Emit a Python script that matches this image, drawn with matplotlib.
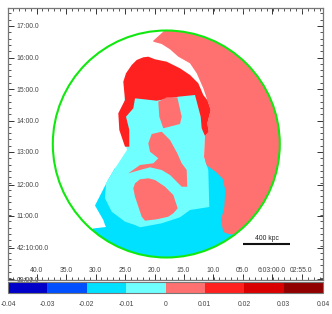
import matplotlib
matplotlib.use("Agg")
import matplotlib.pyplot as plt
import numpy as np
from matplotlib.colors import BoundaryNorm, ListedColormap
from matplotlib.patches import Circle

plt.rcParams["font.family"] = ["Liberation Sans", "DejaVu Sans"]

W, H = 332, 314
TEXT = "#444444"

# colour scale
levels = [-0.04, -0.03, -0.02, -0.01, 0, 0.01, 0.02, 0.03, 0.04]
level_labels = ["-0.04", "-0.03", "-0.02", "-0.01", "0", "0.01", "0.02", "0.03", "0.04"]
level_colors = ["#0000c8", "#0050ff", "#00e0ff", "#70ffff", "#ff7070", "#ff2020", "#d80000", "#900000"]

# sky axes, positions
ra_ticks = [36.5, 66, 95.5, 125, 154.5, 183.5, 213, 242.5, 272, 301.5]
ra_labels = ["40.0", "35.0", "30.0", "25.0", "20.0", "15.0", "10.0", "05.0", "6:03:00.0", "02:55.0"]
dec_ticks = [26, 57.5, 89, 120.5, 152, 184.5, 216, 247.5, 279]
dec_labels = ["17:00.0", "16:00.0", "15:00.0", "14:00.0", "13:00.0", "12:00.0", "11:00.0", "42:10:00.0", "09:00.0"]

# contour outlines, each with the value of its band
cyan_value = -0.015
cyan_outline = [(108, 180), (95, 205.5), (103.3, 220), (105, 225), (106, 227), (93, 228.5), (80, 270),
                (260, 270), (235, 240), (235, 190), (208, 160), (115, 168)]

light_value = -0.005
light_outline = [(125, 95), (200, 95), (205, 136), (204, 157), (206.7, 165), (208.3, 170), (209.3, 207),
                 (190, 210), (180, 217.3), (161.7, 223.3), (140, 227.3), (135, 225), (125, 221.7),
                 (111.7, 211.7), (105, 198.3), (106, 183.3), (115, 168.3), (127, 150), (122, 130)]

pink_value = 0.005
pink_outline = [(164, 20), (164, 31), (153.3, 40.7), (153.3, 41.7), (161.7, 44), (170, 49.3), (178.3, 56.7),
                (190, 63.3), (196.7, 73.3), (203.3, 88.3), (207.3, 100), (210.7, 110), (207.3, 123.3),
                (208.7, 131.7), (205, 136), (204, 157), (206.7, 165.3), (216, 172), (222.7, 178.7),
                (225.3, 190.3), (224.3, 207), (221, 220.3), (223.3, 232), (229.3, 234.3), (232.7, 234.3),
                (260, 250), (300, 250), (300, 20)]

red_value = 0.015
red_outline = [(136.7, 60), (143.3, 57.3), (148.3, 56.7), (155, 59.3), (166.7, 61.7), (180, 68.3), (190, 75),
               (198.3, 83.3), (203.3, 95), (207.3, 100), (210.7, 110), (207.3, 123.3), (208.7, 131.7),
               (205, 136), (201.7, 128.3), (200.7, 116.7), (195, 95), (178.3, 96.7), (156.7, 100.7),
               (135, 98.3), (133.3, 108.3), (126, 116.7), (129.3, 130), (129.3, 146.7), (125, 146.7),
               (119.3, 130), (118.3, 113.3), (125, 100), (123.3, 81.7), (126, 73.3), (131.7, 65)]

island_value = 0.005
island_top = [(158.3, 101.7), (166.7, 97.3), (177.3, 97.3), (181.7, 116.7), (180, 124), (163.3, 128.3),
              (159.3, 116.7)]
island_middle = [(148.3, 143.3), (151.7, 134), (161.7, 131.7), (170, 140), (177.3, 153.3), (181.7, 163.3),
                 (186.7, 170), (187.3, 186.7), (181.7, 186.7), (170, 175), (161.7, 170), (150, 167.3),
                 (140, 170), (128.3, 173.3), (140, 165), (153.3, 163.3), (158.3, 158.3), (150, 151.7)]
island_bottom = [(133.3, 188.3), (135, 183.3), (140, 179.3), (148.3, 178.3), (155, 180), (165, 186.7),
                 (173.3, 195), (177.7, 208.3), (173.3, 213.3), (168.3, 216.7), (156.7, 219.3), (145, 220.7),
                 (141.7, 216.7), (140, 211.7), (136.7, 201.7), (135, 196.7)]

# r500 circle and scale bar
circle_center = (166.3, 144)
circle_radius = 113.5
bar_x = [243.3, 290.3]
bar_y = [244.3, 244.3]
bar_label = "400 kpc"


def main():
    fig = plt.figure(figsize=(W / 100, H / 100), dpi=100)
    ax = fig.add_axes([8 / W, 1 - 280 / H, 315 / W, 272 / H])
    ax.set_xlim(8, 323)
    ax.set_ylim(280, 8)

    cmap = ListedColormap(level_colors)
    norm = BoundaryNorm(levels, cmap.N)

    clip = Circle(circle_center, circle_radius, transform=ax.transData)
    bands = [(cyan_outline, cyan_value), (light_outline, light_value), (pink_outline, pink_value),
             (red_outline, red_value), (island_top, island_value), (island_middle, island_value),
             (island_bottom, island_value)]
    for outline, value in bands:
        xs, ys = zip(*outline)
        poly = ax.fill(xs, ys, color=cmap(norm(value)), lw=0)[0]
        poly.set_clip_path(clip)

    ax.add_patch(Circle(circle_center, circle_radius, fill=False, ec="#10e810", lw=1.5))

    ax.plot(bar_x, bar_y, color="#111111", lw=1.5, solid_capstyle="butt")
    ax.text(np.mean(bar_x), 238, bar_label, ha="center", va="center", fontsize=4.9, color="#222222")

    ax.set_xticks(ra_ticks, ra_labels)
    ax.set_yticks(dec_ticks, dec_labels)
    ax.set_xticks(np.arange(12.9, 323, 5.9), minor=True)
    ax.set_yticks(np.arange(13.4, 280, 6.3), minor=True)
    ax.tick_params(which="major", direction="in", length=4, width=0.7, color="#333333",
                   top=True, right=True, labelsize=4.9, labelcolor=TEXT)
    ax.tick_params(which="minor", direction="in", length=2, width=0.7, color="#555555",
                   top=True, right=True)
    ax.tick_params(axis="x", which="major", pad=-9.7)
    ax.tick_params(axis="y", which="major", pad=-6)
    for label in ax.get_yticklabels():
        label.set_ha("left")
    for spine in ax.spines.values():
        spine.set_color("#777777")
        spine.set_linewidth(0.9)

    cax = fig.add_axes([8 / W, 1 - 293 / H, 315 / W, 11 / H])
    sm = plt.cm.ScalarMappable(norm=norm, cmap=cmap)
    cb = fig.colorbar(sm, cax=cax, orientation="horizontal", spacing="proportional")
    cb.set_ticks(levels, labels=level_labels)
    cb.minorticks_off()
    cax.tick_params(length=0, pad=5.5, labelsize=4.9, labelcolor=TEXT)
    cb.outline.set_edgecolor("#777777")
    cb.outline.set_linewidth(0.8)

    fig.savefig("out.png", dpi=100)
    plt.close(fig)


if __name__ == "__main__":
    main()
